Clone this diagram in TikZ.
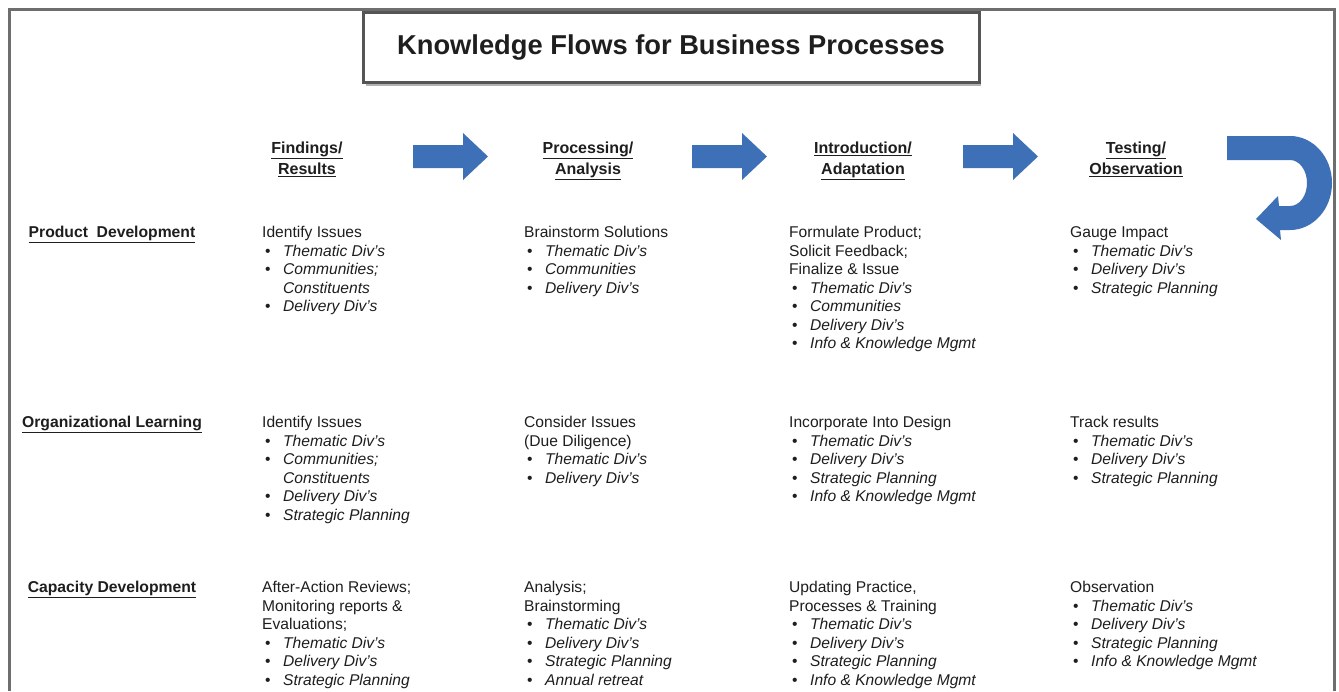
\documentclass[tikz,border=0pt]{standalone}
\usepackage{fontspec}
\setmainfont{Liberation Sans}
\definecolor{arrowblue}{RGB}{62,112,183}
\definecolor{framegray}{RGB}{110,110,110}
\definecolor{boxgray}{RGB}{85,85,85}
\definecolor{txt}{RGB}{30,30,30}
\newcommand\bi[1]{\makebox[21pt][l]{\hspace{3pt}\textbullet}\textit{#1}}
\newcommand\ci[1]{\hspace*{21pt}\textit{#1}}
\newcommand\cellbox[1]{\parbox[t]{250pt}{\fontsize{15.6}{18.5}\selectfont\raggedright #1}}
\newcommand\headbox[2]{\parbox[t]{200pt}{\centering\fontsize{16}{21.5}\selectfont\bfseries\underline{#1}\\\underline{#2}}}
\begin{document}
\begin{tikzpicture}[x=1pt,y=-1pt,
  cell/.style={anchor=base west, inner sep=0pt, text=txt},
  rowlabel/.style={anchor=base, inner sep=0pt, font=\fontsize{15.7}{18}\selectfont\bfseries, text=txt},
  colhead/.style={anchor=base, inner sep=0pt, text=txt},
  flowarrow/.style={fill=arrowblue},
  titlebox/.style={draw=boxgray, line width=3pt, fill=white, minimum width=616pt, minimum height=70pt, inner sep=0pt, text=txt, font=\fontsize{27.3}{32}\selectfont\bfseries},
]
\useasboundingbox (0,0) rectangle (1339,691);
\fill[white] (0,0) rectangle (1339,691);
\draw[framegray, line width=3pt] (9.5,691) -- (9.5,9.5) -- (1334.5,9.5) -- (1334.5,691);

% title
\fill[black!30] (366,15) rectangle (981,85.5);
\node[titlebox] (title) at (671,47) {Knowledge Flows for Business Processes};

% column headers
\node[colhead] (h1) at (307,153) {\headbox{Findings/}{Results}};
\node[colhead] (h2) at (588,153) {\headbox{Processing/}{Analysis}};
\node[colhead] (h3) at (863,153) {\headbox{Introduction/}{Adaptation}};
\node[colhead] (h4) at (1136,153) {\headbox{Testing/}{Observation}};

% block arrows
\fill[flowarrow] (413,145) -- (463,145) -- (463,133) -- (488,156.5) -- (463,180) -- (463,168) -- (413,168) -- cycle;
\fill[flowarrow] (692,145) -- (742,145) -- (742,133) -- (767,156.5) -- (742,180) -- (742,168) -- (692,168) -- cycle;
\fill[flowarrow] (963,145) -- (1013,145) -- (1013,133) -- (1038,156.5) -- (1013,180) -- (1013,168) -- (963,168) -- cycle;
% U-turn arrow
\fill[flowarrow] (1227,136) -- (1290,136) arc[start angle=-90, end angle=90, x radius=42, y radius=47]
  -- (1280,230) -- (1281,240) -- (1256,219) -- (1278,196) -- (1279,206) -- (1290,206)
  arc[start angle=90, end angle=-90, x radius=17, y radius=23] -- (1227,160) -- cycle;

% row labels
\node[rowlabel] (r1) at (112,237.5) {\underline{Product\ \ Development}};
\node[rowlabel] (r2) at (112,427.5) {\underline{Organizational Learning}};
\node[rowlabel] (r3) at (112,592.5) {\underline{Capacity Development}};

% row 1
\node[cell] (c11) at (262,237.5) {\cellbox{Identify Issues\\ \bi{Thematic Div's}\\ \bi{Communities;}\\ \ci{Constituents}\\ \bi{Delivery Div's}}};
\node[cell] (c12) at (524,237.5) {\cellbox{Brainstorm Solutions\\ \bi{Thematic Div's}\\ \bi{Communities}\\ \bi{Delivery Div's}}};
\node[cell] (c13) at (789,237.5) {\cellbox{Formulate Product;\\ Solicit Feedback;\\ Finalize \& Issue\\ \bi{Thematic Div's}\\ \bi{Communities}\\ \bi{Delivery Div's}\\ \bi{Info \& Knowledge Mgmt}}};
\node[cell] (c14) at (1070,237.5) {\cellbox{Gauge Impact\\ \bi{Thematic Div's}\\ \bi{Delivery Div's}\\ \bi{Strategic Planning}}};

% row 2
\node[cell] (c21) at (262,427.5) {\cellbox{Identify Issues\\ \bi{Thematic Div's}\\ \bi{Communities;}\\ \ci{Constituents}\\ \bi{Delivery Div's}\\ \bi{Strategic Planning}}};
\node[cell] (c22) at (524,427.5) {\cellbox{Consider Issues\\ (Due Diligence)\\ \bi{Thematic Div's}\\ \bi{Delivery Div's}}};
\node[cell] (c23) at (789,427.5) {\cellbox{Incorporate Into Design\\ \bi{Thematic Div's}\\ \bi{Delivery Div's}\\ \bi{Strategic Planning}\\ \bi{Info \& Knowledge Mgmt}}};
\node[cell] (c24) at (1070,427.5) {\cellbox{Track results\\ \bi{Thematic Div's}\\ \bi{Delivery Div's}\\ \bi{Strategic Planning}}};

% row 3
\node[cell] (c31) at (262,592.5) {\cellbox{After-Action Reviews;\\ Monitoring reports \&\\ Evaluations;\\ \bi{Thematic Div's}\\ \bi{Delivery Div's}\\ \bi{Strategic Planning}}};
\node[cell] (c32) at (524,592.5) {\cellbox{Analysis;\\ Brainstorming\\ \bi{Thematic Div's}\\ \bi{Delivery Div's}\\ \bi{Strategic Planning}\\ \bi{Annual retreat}}};
\node[cell] (c33) at (789,592.5) {\cellbox{Updating Practice,\\ Processes \& Training\\ \bi{Thematic Div's}\\ \bi{Delivery Div's}\\ \bi{Strategic Planning}\\ \bi{Info \& Knowledge Mgmt}}};
\node[cell] (c34) at (1070,592.5) {\cellbox{Observation\\ \bi{Thematic Div's}\\ \bi{Delivery Div's}\\ \bi{Strategic Planning}\\ \bi{Info \& Knowledge Mgmt}}};
\end{tikzpicture}
\end{document}
